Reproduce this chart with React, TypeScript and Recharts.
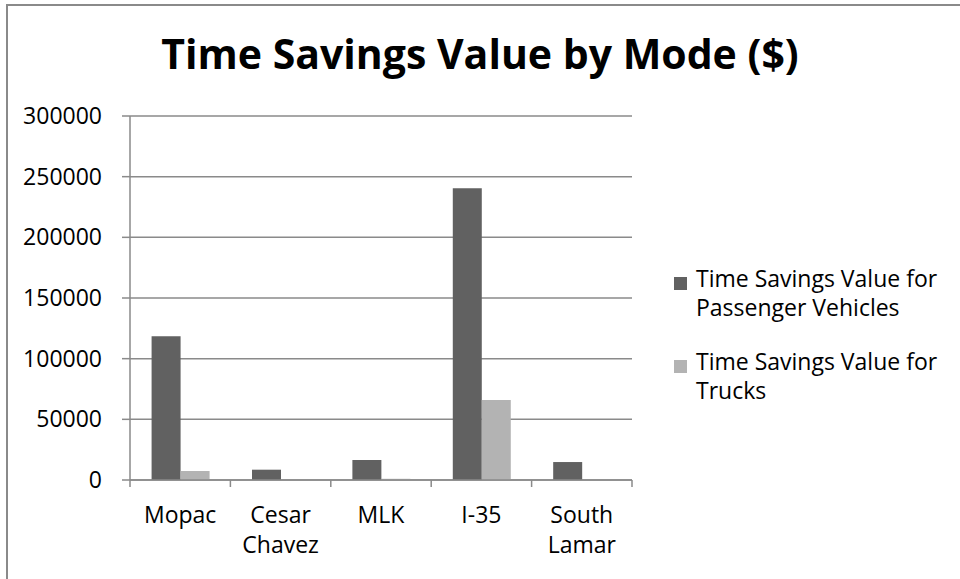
import { BarChart, Bar, XAxis, YAxis, CartesianGrid } from 'recharts'

const categories = ['Mopac', 'Cesar Chavez', 'MLK', 'I-35', 'South Lamar']
const passengerValues = [118500, 8500, 16500, 240500, 14800]
const truckValues = [7400, 0, 1000, 66000, 0]
const yTicks = [0, 50000, 100000, 150000, 200000, 250000, 300000]

const seriesNames = [
  'Time Savings Value for Passenger Vehicles',
  'Time Savings Value for Trucks',
]
const seriesColors = ['#616161', '#b3b3b3']

const data = categories.map((name, i) => ({
  name,
  passenger: passengerValues[i],
  trucks: truckValues[i],
}))

const FONT = '"Open Sans", sans-serif'
const W = 960
const H = 579
const PLOT_LEFT = 130
const PLOT_RIGHT = 632
const BAND = (PLOT_RIGHT - PLOT_LEFT) / categories.length
const GRID = '#8a8a8a'

// category ticks sit at band boundaries, labels wrap on spaces
function CategoryTick({ x, y, payload, index }: any) {
  const words = String(payload.value).split(' ')
  const last = index === categories.length - 1
  return (
    <g>
      <line x1={x - BAND / 2} x2={x - BAND / 2} y1={y} y2={y + 7} stroke={GRID} strokeWidth={1.5} />
      {last && <line x1={x + BAND / 2} x2={x + BAND / 2} y1={y} y2={y + 7} stroke={GRID} strokeWidth={1.5} />}
      <text x={x} y={y + 43} textAnchor="middle" fontSize={23} fontFamily={FONT} fill="#000">
        {words.map((w, i) => (
          <tspan key={i} x={x} dy={i === 0 ? 0 : 30}>
            {w}
          </tspan>
        ))}
      </text>
    </g>
  )
}

function LegendBox() {
  return (
    <div
      style={{
        position: 'absolute',
        left: 674,
        top: 264,
        width: 286,
        fontFamily: FONT,
        fontSize: 23,
        lineHeight: '29px',
        color: '#000',
      }}
    >
      {seriesNames.map((n, i) => (
        <div key={n} style={{ display: 'flex', alignItems: 'flex-start', marginBottom: 25 }}>
          <div
            style={{
              width: 13,
              height: 13,
              background: seriesColors[i],
              marginTop: 13,
              marginRight: 9,
              flex: 'none',
            }}
          />
          <div style={{ width: 262 }}>{n}</div>
        </div>
      ))}
    </div>
  )
}

export default function App() {
  return (
    <div style={{ position: 'absolute', left: 0, top: 0, width: W, height: H, background: '#fff', overflow: 'hidden' }}>
      <div style={{ position: 'absolute', left: 6, top: 4, width: 2, height: H, background: GRID }} />
      <div style={{ position: 'absolute', left: 6, top: 4, width: W, height: 2, background: GRID }} />
      <div
        style={{
          position: 'absolute',
          left: 0,
          top: 29,
          width: W,
          textAlign: 'center',
          fontFamily: FONT,
          fontWeight: 700,
          fontSize: 41,
          lineHeight: '48px',
          color: '#000',
        }}
      >
        Time Savings Value by Mode ($)
      </div>
      <div style={{ position: 'absolute', left: 0, top: 0 }}>
        <BarChart
          width={W}
          height={H}
          data={data}
          margin={{ top: 116, right: W - PLOT_RIGHT, bottom: 29, left: 8 }}
          barCategoryGap="21.5%"
          barGap={0}
        >
          <CartesianGrid vertical={false} stroke={GRID} strokeWidth={1.5} />
          <XAxis
            dataKey="name"
            height={70}
            tickLine={false}
            tickSize={0}
            tickMargin={0}
            axisLine={{ stroke: GRID, strokeWidth: 1.5 }}
            tick={<CategoryTick />}
            interval={0}
          />
          <YAxis
            width={122}
            domain={[0, 300000]}
            ticks={yTicks}
            tickSize={8}
            tickMargin={20}
            tickLine={{ stroke: GRID, strokeWidth: 1.5 }}
            axisLine={{ stroke: GRID, strokeWidth: 1.5 }}
            tick={{ fontSize: 23, fontFamily: FONT, fill: '#000' }}
            interval={0}
          />
          <Bar dataKey="passenger" name={seriesNames[0]} fill={seriesColors[0]} isAnimationActive={false} />
          <Bar dataKey="trucks" name={seriesNames[1]} fill={seriesColors[1]} isAnimationActive={false} />
        </BarChart>
      </div>
      <LegendBox />
    </div>
  )
}
